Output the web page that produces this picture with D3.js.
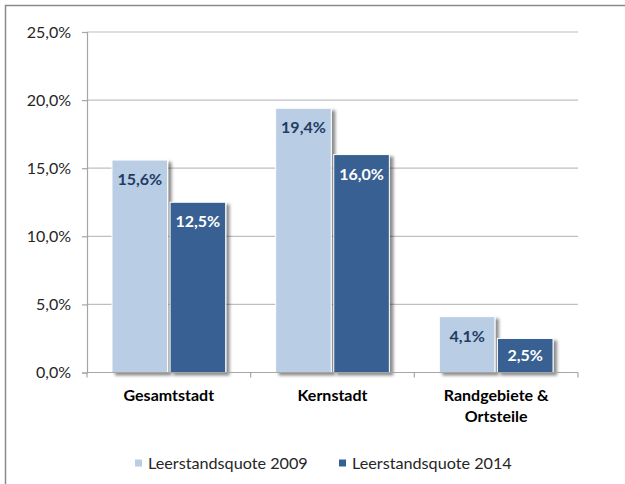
<!DOCTYPE html>
<html><head><meta charset="utf-8">
<script src="https://cdn.jsdelivr.net/npm/d3@7"></script>
<style>html,body{margin:0;padding:0;background:#fff;}svg{display:block;font-family:Lato,"Open Sans",sans-serif;}</style>
</head><body>
<svg id="c" width="625" height="484"></svg>
<script>
const categories = [["Gesamtstadt"], ["Kernstadt"], ["Randgebiete &", "Ortsteile"]];
const seriesNames = ["Leerstandsquote 2009", "Leerstandsquote 2014"];
const values2009 = [15.6, 19.4, 4.1];
const values2014 = [12.5, 16.0, 2.5];
const yTicks = [0, 5, 10, 15, 20, 25];
const colors = ["#b9cde5", "#376092"];
const labelColors = ["#1f3d64", "#ffffff"];

const svg = d3.select("#c");
const fmt = v => v.toFixed(1).replace(".", ",") + "%";

const defs = svg.append("defs");
const f = defs.append("filter").attr("id","sh").attr("x","-20%").attr("y","-20%").attr("width","150%").attr("height","150%");
f.append("feDropShadow").attr("dx",3.5).attr("dy",2.5).attr("stdDeviation",1.8).attr("flood-color","#000").attr("flood-opacity",0.45);

// frame
svg.append("rect").attr("x",5.5).attr("y",5.5).attr("width",700).attr("height",600)
  .attr("fill","none").attr("stroke","#8a8a8a").attr("stroke-width",1.5);

const x0 = d3.scaleBand().domain(d3.range(categories.length)).range([87, 578]);
const x1 = d3.scaleBand().domain([0,1]).range([0, x0.bandwidth()]).paddingInner(0.043).paddingOuter(0.43);
const y = d3.scaleLinear().domain([0, 25]).range([372.5, 32]);

// gridlines
svg.append("g").selectAll("line").data(yTicks.filter(t=>t>0)).join("line")
  .attr("x1",87).attr("x2",578).attr("y1",d=>y(d)).attr("y2",d=>y(d))
  .attr("stroke","#bfbfbf").attr("stroke-width",1.2);

// y axis
const ya = svg.append("g").attr("transform","translate(87,0)")
  .call(d3.axisLeft(y).tickValues(yTicks).tickSize(5).tickPadding(11).tickFormat(fmt));
ya.select(".domain").attr("stroke","#a6a6a6").attr("stroke-width",1.2);
ya.selectAll(".tick line").attr("stroke","#a6a6a6").attr("stroke-width",1.2);
ya.selectAll("text").attr("font-size",16).attr("fill","#262626").attr("font-family","Lato");

const data = categories.map((c,i)=>[values2009[i], values2014[i]]);

const groups = svg.append("g").selectAll("g").data(data).join("g")
  .attr("transform",(d,i)=>`translate(${x0(i)},0)`);
groups.selectAll("rect").data(d=>d).join("rect")
  .attr("x",(d,j)=>x1(j)).attr("width",x1.bandwidth())
  .attr("y",d=>y(d)).attr("height",d=>y(0)-y(d))
  .attr("fill",(d,j)=>colors[j]).attr("stroke","#fff").attr("stroke-width",1)
  .attr("filter","url(#sh)");
groups.selectAll("text").data(d=>d).join("text")
  .attr("x",(d,j)=>x1(j)+x1.bandwidth()/2)
  .attr("y",d=>Math.min(y(d)+25, (y(d)+y(0))/2+6))
  .attr("text-anchor","middle").attr("font-size",16).attr("font-weight","bold")
  .attr("fill",(d,j)=>labelColors[j]).text(fmt);

// x axis
const xa = svg.append("g");
xa.append("line").attr("x1",87).attr("x2",578).attr("y1",y(0)).attr("y2",y(0))
  .attr("stroke","#a6a6a6").attr("stroke-width",1.2);
const bounds = x0.domain().map(i=>x0(i)).concat([578]);
xa.selectAll("line.t").data(bounds).join("line").attr("class","t")
  .attr("x1",d=>d).attr("x2",d=>d).attr("y1",y(0)).attr("y2",y(0)+5)
  .attr("stroke","#a6a6a6").attr("stroke-width",1.2);
const cl = xa.selectAll("text").data(categories).join("text")
  .attr("text-anchor","middle").attr("font-size",16).attr("font-weight","bold").attr("fill","#000")
  .attr("transform",(d,i)=>`translate(${x0(i)+x0.bandwidth()/2},400.5)`);
cl.selectAll("tspan").data(d=>d).join("tspan").attr("x",0).attr("dy",(d,k)=>k?21:0).text(d=>d);

// legend
const leg = svg.append("g");
const legX = [135, 339];
seriesNames.forEach((s,i)=>{
  leg.append("rect").attr("x",legX[i]).attr("y",459.5).attr("width",7).attr("height",7).attr("fill",colors[i]);
  leg.append("text").attr("x",legX[i]+13).attr("y",468.5).attr("font-size",16.2).attr("fill","#262626").text(s);
});
</script>
</body></html>
